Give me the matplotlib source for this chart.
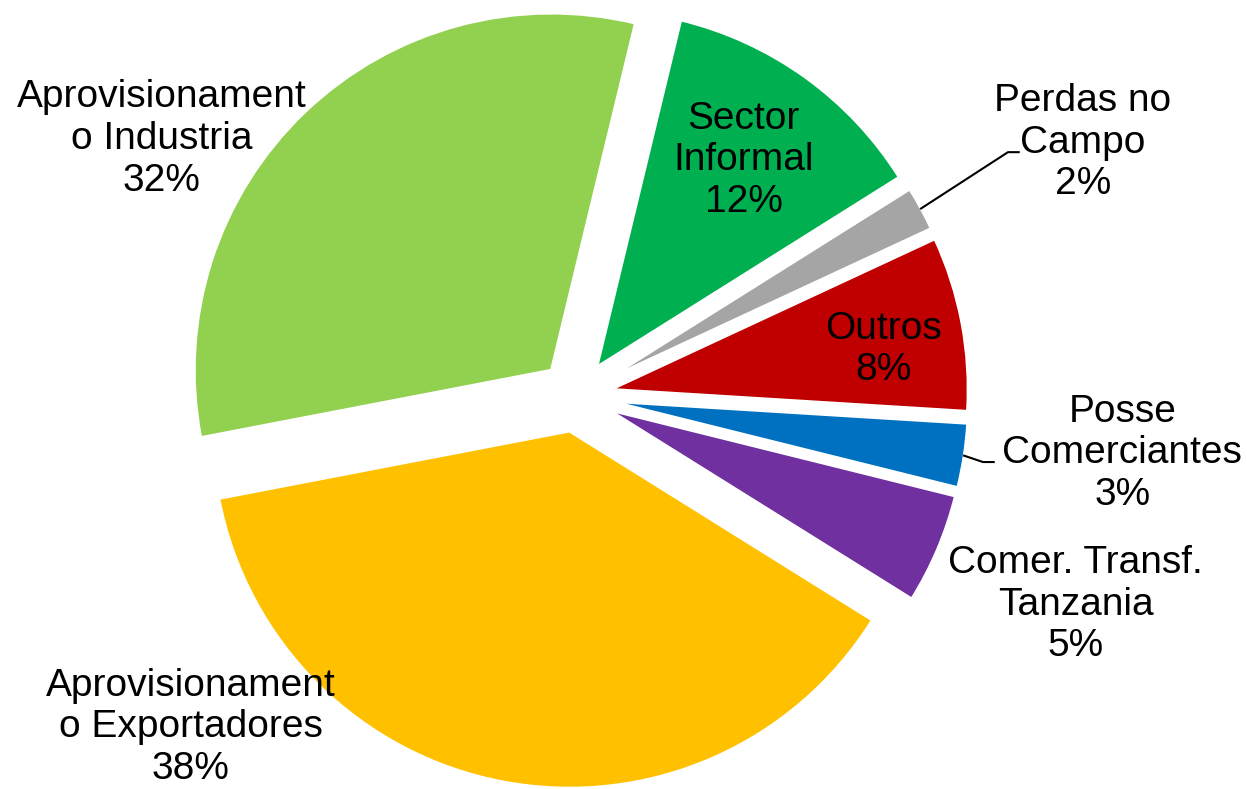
import numpy as np
import matplotlib.pyplot as plt

plt.rcParams['font.family'] = ['Liberation Sans', 'DejaVu Sans']

# data, clockwise from the top
labels = ['Sector\nInformal', 'Perdas no\nCampo', 'Outros', 'Posse\nComerciantes',
          'Comer. Transf.\nTanzania', 'Aprovisionament\no Exportadores',
          'Aprovisionament\no Industria']
values = [12.3, 2.0, 7.9, 2.9, 5.0, 38.1, 31.8]
colors = ['#00B050', '#A5A5A5', '#C00000', '#0070C0', '#7030A0', '#FFC000', '#92D050']

# label centres (pie radius units) and leader elbows
label_pos = [(0.47, 0.66), (1.42, 0.71), (0.86, 0.13), (1.53, -0.16),
             (1.40, -0.585), (-1.08, -0.928), (-1.16, 0.72)]
leaders = {1: (1.21, 0.683), 3: (1.14, -0.185)}

W, H = 1247, 789
R = 357            # pie radius in px
cx, cy = 576, 396  # pie centre in px
L = 1.9
fig = plt.figure(figsize=(W / 100, H / 100), dpi=100)
w, h = 2 * L * R / W, 2 * L * R / H
ax = fig.add_axes([cx / W - w / 2, (H - cy) / H - h / 2, w, h])

explode = [0.1] * len(values)
wedges, _ = ax.pie(values, colors=colors, startangle=76.4, counterclock=False,
                   explode=explode, radius=1,
                   wedgeprops=dict(edgecolor='white', linewidth=2))
ax.set_xlim(-L, L)
ax.set_ylim(-L, L)
ax.set_aspect('equal')
ax.axis('off')

total = sum(values)
for i, (wd, lab, v) in enumerate(zip(wedges, labels, values)):
    x, y = label_pos[i]
    ax.text(x, y, f'{lab}\n{v / total * 100:.0f}%', ha='center', va='center',
            fontsize=28, linespacing=1.2, color='black')
    if i in leaders:
        mid = np.deg2rad((wd.theta1 + wd.theta2) / 2)
        ex = explode[i]
        sx, sy = (1 + ex) * np.cos(mid), (1 + ex) * np.sin(mid)
        ex_, ey_ = leaders[i]
        ax.plot([sx, ex_, ex_ + 0.03], [sy, ey_, ey_], color='black', lw=1.5)

fig.savefig('out.png', dpi=100)
